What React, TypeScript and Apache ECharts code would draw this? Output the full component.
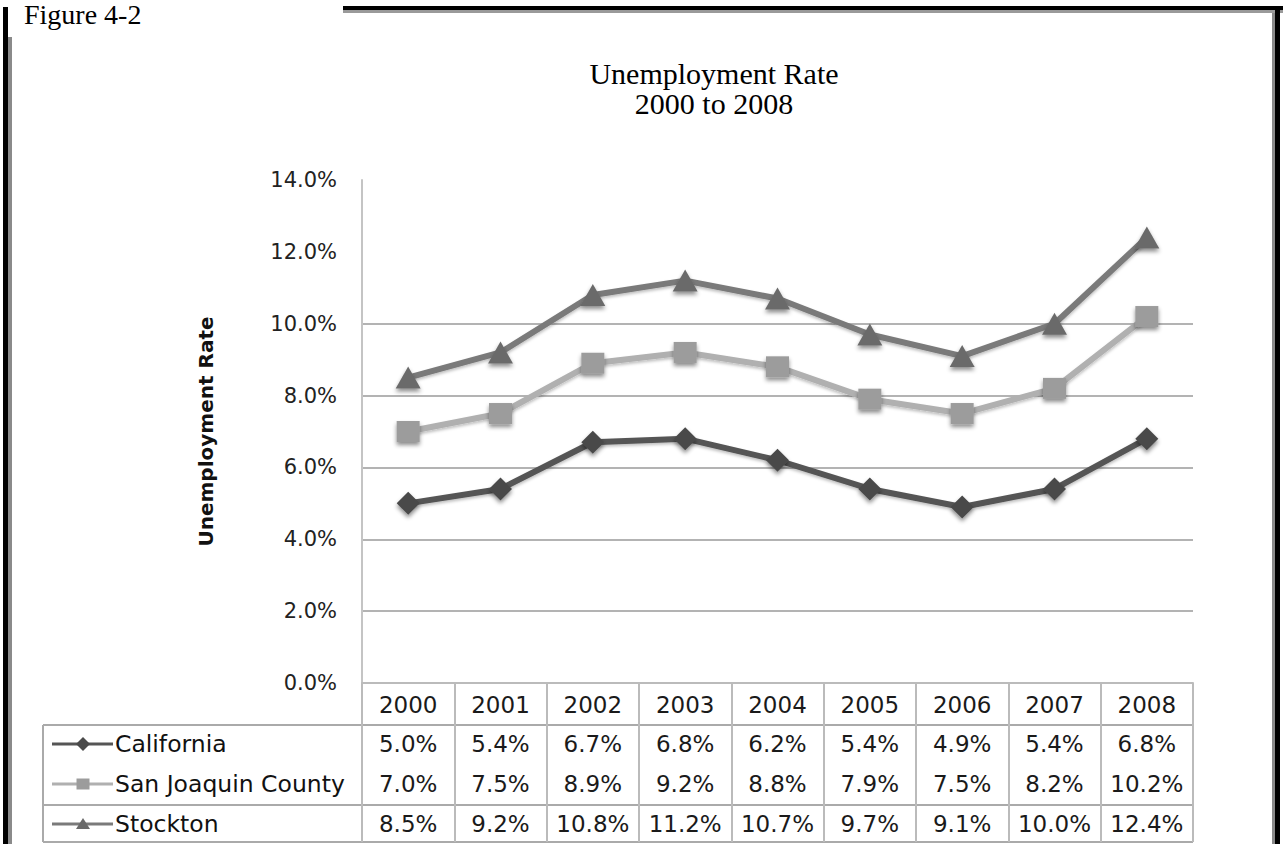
import React, { useEffect, useRef } from "react";
import * as echarts from "echarts";

// ---- data ----
const years = ["2000", "2001", "2002", "2003", "2004", "2005", "2006", "2007", "2008"];
const california = [5.0, 5.4, 6.7, 6.8, 6.2, 5.4, 4.9, 5.4, 6.8];
const sanJoaquin = [7.0, 7.5, 8.9, 9.2, 8.8, 7.9, 7.5, 8.2, 10.2];
const stockton = [8.5, 9.2, 10.8, 11.2, 10.7, 9.7, 9.1, 10.0, 12.4];
const seriesNames = ["California", "San Joaquin County", "Stockton"];
const yTicks = [0, 2, 4, 6, 8, 10, 12, 14];
const visibleGridValues = [2, 4, 6, 8, 10];
const chartTitle = ["Unemployment Rate", "2000 to 2008"];
const yAxisTitle = "Unemployment Rate";
const figureLabel = "Figure 4-2";

// ---- layout ----
const W = 1283;
const H = 844;
const GRID_L = 362;
const GRID_R = 1193;
const GRID_T = 180;
const AXIS_Y = 683;
const HEADER_B = 725;
const ROW_LINE = 805;
const TABLE_B = 842;
const LEGEND_L = 43;
const ROW_Y = [744, 784, 824];

const SANS = "DejaVu Sans";
const SERIF = "Liberation Serif";

const styles = [
  { line: "#555555", marker: "#4a4a4a", symbol: "diamond", size: [23, 23] },
  { line: "#b0b0b0", marker: "#9c9c9c", symbol: "rect", size: [23, 21] },
  { line: "#7a7a7a", marker: "#6a6a6a", symbol: "triangle", size: [25, 22] },
];

export default function App() {
  const ref = useRef<HTMLDivElement>(null);

  useEffect(() => {
    if (!ref.current) return;
    const chart = echarts.init(ref.current, undefined, { renderer: "svg" });
    const dataSets = [california, sanJoaquin, stockton];

    chart.setOption({
      animation: false,
      backgroundColor: "#ffffff",
      grid: { left: GRID_L, right: W - GRID_R, top: GRID_T, bottom: H - AXIS_Y, containLabel: false },
      xAxis: {
        type: "category",
        data: years,
        boundaryGap: true,
        axisLine: { show: true, lineStyle: { color: "#bbbbbb", width: 2 } },
        axisTick: { show: true, length: TABLE_B - AXIS_Y, lineStyle: { color: "#bbbbbb", width: 2 } },
        axisLabel: { margin: 10, fontFamily: SANS, fontSize: 23, lineHeight: 23, color: "#1a1a1a" },
        splitLine: { show: false },
      },
      yAxis: {
        type: "value",
        min: 0,
        max: 14,
        interval: 2,
        name: yAxisTitle,
        nameLocation: "middle",
        nameGap: 146,
        nameTextStyle: { fontFamily: SANS, fontWeight: "bold", fontSize: 20, color: "#111111" },
        axisLine: { show: true, lineStyle: { color: "#c4c4c4", width: 2 } },
        axisTick: { show: false },
        axisLabel: {
          margin: 25,
          fontFamily: SANS,
          fontSize: 21,
          color: "#222222",
          formatter: (v: number) => `${v.toFixed(1)}%`,
        },
        splitLine: {
          show: true,
          lineStyle: {
            width: 1.5,
            color: yTicks.map((t) => (visibleGridValues.includes(t) ? "#9a9a9a" : "rgba(0,0,0,0)")),
          },
        },
      },
      series: dataSets.map((d, i) => ({
        name: seriesNames[i],
        type: "line",
        data: d,
        smooth: false,
        symbol: styles[i].symbol,
        symbolSize: styles[i].size,
        showAllSymbol: true,
        lineStyle: {
          color: styles[i].line,
          width: 6,
          shadowBlur: 3,
          shadowOffsetY: 2,
          shadowColor: "rgba(0,0,0,0.25)",
        },
        itemStyle: {
          color: styles[i].marker,
          shadowBlur: 4,
          shadowOffsetY: 3,
          shadowColor: "rgba(0,0,0,0.45)",
        },
        z: 3 + i,
      })),
    });

    const xs = years.map((_, i) => chart.convertToPixel({ xAxisIndex: 0 }, i) as number);

    const graphics: any[] = [];
    // frame
    graphics.push(
      { type: "rect", shape: { x: 3, y: 7, width: 5, height: H - 7 }, style: { fill: "#000" }, silent: true },
      { type: "rect", shape: { x: 8, y: 37, width: 4, height: H - 37 }, style: { fill: "#8a8a8a" }, silent: true },
      { type: "rect", shape: { x: 343, y: 6, width: W - 343, height: 4 }, style: { fill: "#000" }, silent: true },
      { type: "rect", shape: { x: 343, y: 10, width: W - 343, height: 3 }, style: { fill: "#9a9a9a" }, silent: true },
      { type: "rect", shape: { x: 1275, y: 6, width: 5, height: H - 6 }, style: { fill: "#000" }, silent: true },
      { type: "rect", shape: { x: 1272, y: 13, width: 3, height: H - 13 }, style: { fill: "#8a8a8a" }, silent: true }
    );
    // figure label (kept fully inside the page)
    graphics.push({
      type: "text",
      x: 24,
      y: 14,
      style: { text: figureLabel, font: `28px '${SERIF}'`, fill: "#000", textAlign: "left", textVerticalAlign: "middle" },
      silent: true,
    });
    // title
    chartTitle.forEach((t, i) => {
      graphics.push({
        type: "text",
        x: 714,
        y: 73 + i * 30,
        style: { text: t, font: `30px '${SERIF}'`, fill: "#000", textAlign: "center", textVerticalAlign: "middle" },
        silent: true,
      });
    });
    // table lines
    const hLine = (y: number) => ({
      type: "line",
      shape: { x1: LEGEND_L, y1: y, x2: GRID_R, y2: y },
      style: { stroke: "#aaaaaa", lineWidth: 2 },
      silent: true,
    });
    graphics.push(hLine(HEADER_B), hLine(ROW_LINE), hLine(TABLE_B));
    graphics.push({
      type: "line",
      shape: { x1: LEGEND_L, y1: HEADER_B, x2: LEGEND_L, y2: TABLE_B },
      style: { stroke: "#aaaaaa", lineWidth: 2 },
      silent: true,
    });
    // legend column
    const mx = 83;
    ROW_Y.forEach((y, i) => {
      graphics.push({
        type: "line",
        shape: { x1: 52, y1: y, x2: 113, y2: y },
        style: { stroke: styles[i].line, lineWidth: 3 },
        silent: true,
      });
      if (i === 0) {
        graphics.push({
          type: "polygon",
          shape: { points: [[mx, y - 7], [mx + 7, y], [mx, y + 7], [mx - 7, y]] },
          style: { fill: styles[i].marker },
          silent: true,
        });
      } else if (i === 1) {
        graphics.push({
          type: "rect",
          shape: { x: mx - 6.5, y: y - 5.5, width: 13, height: 11 },
          style: { fill: styles[i].marker },
          silent: true,
        });
      } else {
        graphics.push({
          type: "polygon",
          shape: { points: [[mx, y - 6], [mx + 7, y + 5], [mx - 7, y + 5]] },
          style: { fill: styles[i].marker },
          silent: true,
        });
      }
      graphics.push({
        type: "text",
        x: 115,
        y,
        style: { text: seriesNames[i], font: `23.5px '${SANS}'`, fill: "#111", textAlign: "left", textVerticalAlign: "middle" },
        silent: true,
      });
      dataSets[i].forEach((v, j) => {
        graphics.push({
          type: "text",
          x: xs[j],
          y,
          style: {
            text: `${v.toFixed(1)}%`,
            font: `23px '${SANS}'`,
            fill: "#1a1a1a",
            textAlign: "center",
            textVerticalAlign: "middle",
          },
          silent: true,
        });
      });
    });

    chart.setOption({ graphic: { elements: graphics } });

    return () => chart.dispose();
  }, []);

  return (
    <div
      ref={ref}
      style={{ position: "fixed", left: 0, top: 0, width: W, height: H, background: "#fff" }}
    />
  );
}
